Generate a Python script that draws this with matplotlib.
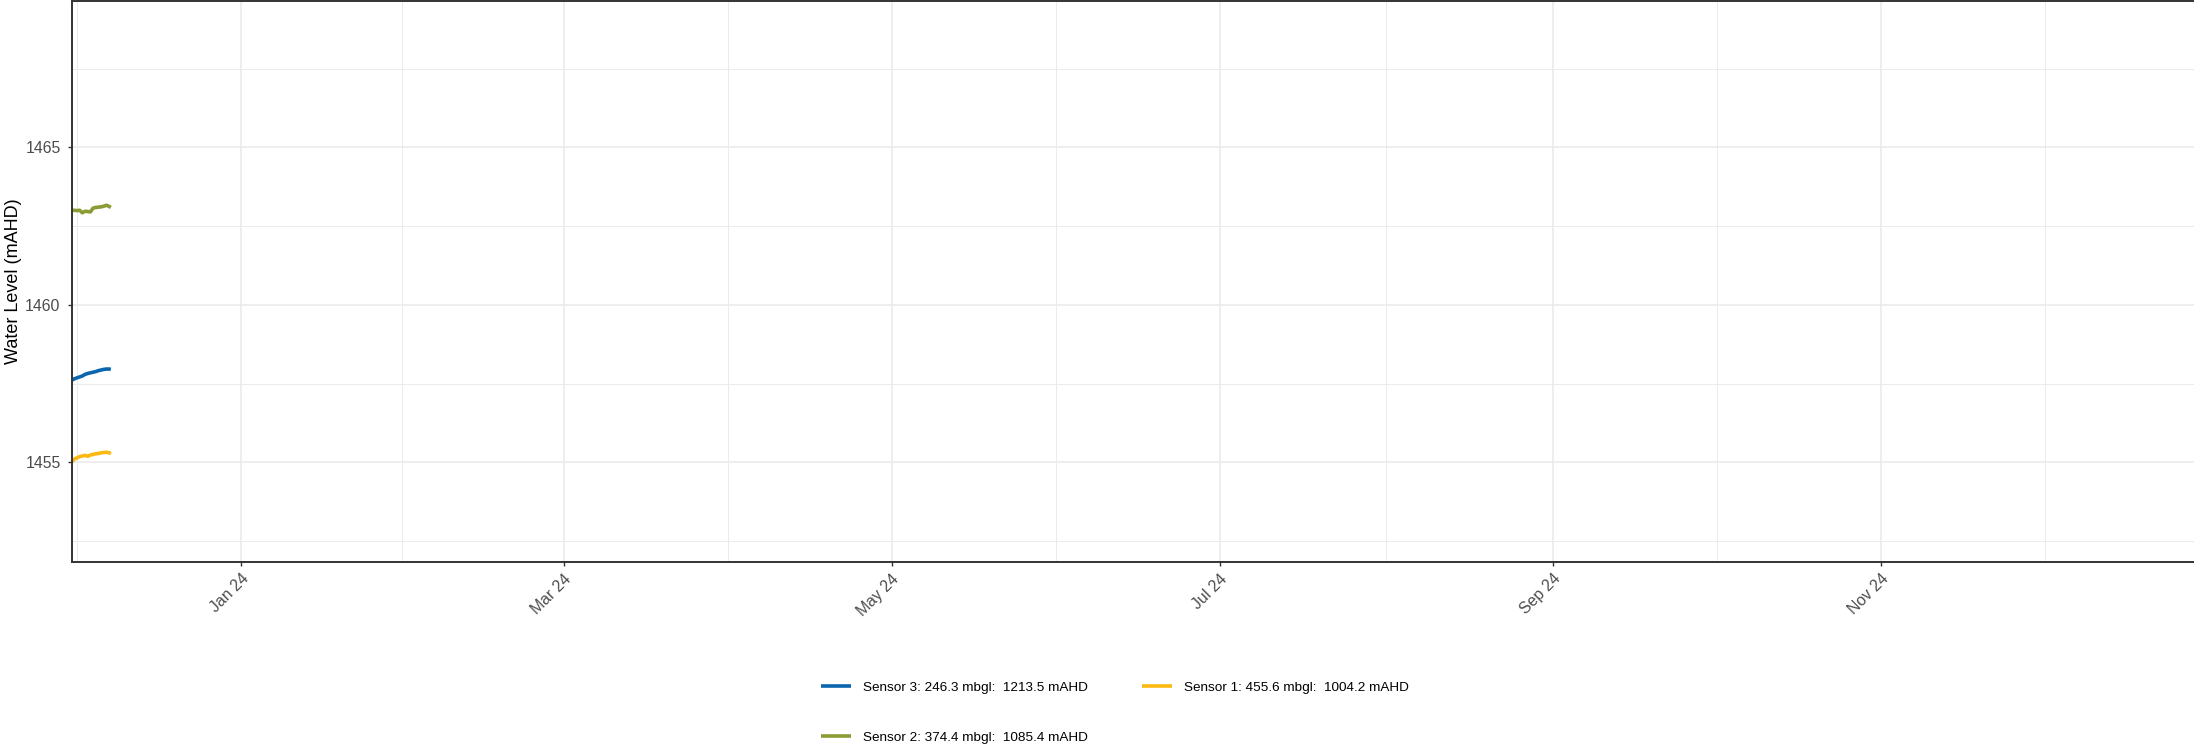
import matplotlib
matplotlib.use("Agg")
import matplotlib.pyplot as plt
import matplotlib.dates as mdates
from matplotlib.ticker import FixedLocator
import pandas as pd
import numpy as np

plt.rcParams['font.family'] = ['Liberation Sans', 'DejaVu Sans']

# ---- data ----
times = ["2023-11-30 12:00", "2023-12-01 00:00", "2023-12-01 12:00", "2023-12-02 00:00",
         "2023-12-02 12:00", "2023-12-03 00:00", "2023-12-03 12:00", "2023-12-04 00:00",
         "2023-12-04 12:00", "2023-12-05 00:00", "2023-12-05 12:00", "2023-12-06 00:00",
         "2023-12-06 12:00", "2023-12-07 00:00", "2023-12-07 12:00", "2023-12-07 19:00"]
sensor3 = [1457.60, 1457.65, 1457.68, 1457.71, 1457.74, 1457.79, 1457.82, 1457.84,
           1457.86, 1457.88, 1457.91, 1457.93, 1457.95, 1457.96, 1457.96, 1457.95]
sensor1 = [1455.00, 1455.10, 1455.14, 1455.18, 1455.20, 1455.22, 1455.19, 1455.23,
           1455.25, 1455.27, 1455.28, 1455.30, 1455.31, 1455.32, 1455.30, 1455.27]
sensor2 = [1463.00, 1463.00, 1462.99, 1463.00, 1462.92, 1462.97, 1462.96, 1462.95,
           1463.07, 1463.09, 1463.10, 1463.11, 1463.13, 1463.16, 1463.12, 1463.09]
labels = ["Sensor 3: 246.3 mbgl:  1213.5 mAHD",
          "Sensor 1: 455.6 mbgl:  1004.2 mAHD",
          "Sensor 2: 374.4 mbgl:  1085.4 mAHD"]
colors = ["#0B66AE", "#FDB913", "#8A9C35"]
x_major = ["2024-01-01 00:00", "2024-03-01 00:00", "2024-05-01 00:00", "2024-07-01 00:00",
           "2024-09-01 00:00", "2024-11-01 00:00"]
x_minor = ["2023-12-01 12:00", "2024-01-31 00:00", "2024-03-31 12:00", "2024-05-31 12:00",
           "2024-08-01 00:00", "2024-10-01 12:00", "2024-12-01 12:00"]
y_major = [1455, 1460, 1465]
y_minor = [1452.5, 1457.5, 1462.5, 1467.5]

W, H = 2194, 747
fig = plt.figure(figsize=(W / 100, H / 100), dpi=100)
left_px, right_px, top_px, bottom_px = 71.67, 2209, 0.5, 561.5
ax = fig.add_axes([left_px / W, 1 - bottom_px / H, (right_px - left_px) / W, (bottom_px - top_px) / H])

t = pd.to_datetime(times, format="%Y-%m-%d %H:%M")
handles = []
for vals, lab, col in zip([sensor3, sensor1, sensor2], labels, colors):
    h, = ax.plot(t, vals, color=col, lw=2.6, label=lab, solid_capstyle='butt')
    handles.append(h)

ax.set_xlim(pd.Timestamp("2023-11-30 12:15"), pd.Timestamp("2025-01-01"))
ax.set_ylim(1451.85, 1469.66)

ax.xaxis.set_major_locator(FixedLocator(mdates.date2num(pd.to_datetime(x_major, format="%Y-%m-%d %H:%M"))))
ax.xaxis.set_minor_locator(FixedLocator(mdates.date2num(pd.to_datetime(x_minor, format="%Y-%m-%d %H:%M"))))
ax.xaxis.set_major_formatter(mdates.DateFormatter("%b %y"))
ax.yaxis.set_major_locator(FixedLocator(y_major))
ax.yaxis.set_minor_locator(FixedLocator(y_minor))

ax.grid(which='major', color='#EBEBEB', lw=1.2)
ax.grid(which='minor', color='#EBEBEB', lw=0.7)
ax.set_axisbelow(True)
for s in ax.spines.values():
    s.set_color('#333333')
    s.set_linewidth(1.4)

ax.tick_params(which='major', length=3.0, width=1.0, color='#333333', labelcolor='#4D4D4D',
               labelsize=11.4)
ax.tick_params(axis='y', which='major', pad=5)
ax.tick_params(axis='x', which='major', pad=4)
ax.tick_params(which='minor', length=0)
for lbl in ax.get_xticklabels():
    lbl.set_rotation(45)
    lbl.set_ha('right')
    lbl.set_va('top')
    lbl.set_rotation_mode('anchor')

ax.set_ylabel("Water Level (mAHD)", fontsize=13, color='black')
ax.yaxis.set_label_coords(-(left_px - 22) / (right_px - left_px), 0.5)

order = [0, 2, 1]
fig.legend([handles[i] for i in order], [labels[i] for i in order],
           loc='center', bbox_to_anchor=(1115 / W, 1 - 712.5 / H), ncol=2, frameon=False,
           fontsize=9.7, handlelength=2.2, handletextpad=0.9, columnspacing=4.0,
           labelspacing=2.8)

fig.savefig("out.png", dpi=100)
